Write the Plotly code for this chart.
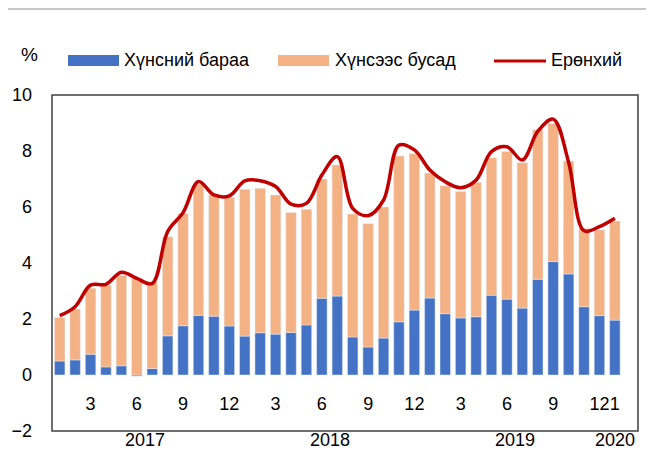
import plotly.graph_objects as go

# ---------------- data ----------------
periods = [f"{y}-{m:02d}" for y in (2017, 2018, 2019) for m in range(1, 13)] + ["2020-01"]
food = [0.50, 0.54, 0.74, 0.29, 0.33, -0.04, 0.23, 1.40, 1.76, 2.13, 2.10, 1.75,
        1.39, 1.51, 1.46, 1.52, 1.79, 2.74, 2.82, 1.36, 1.00, 1.32, 1.90, 2.32,
        2.75, 2.19, 2.04, 2.08, 2.85, 2.71, 2.39, 3.42, 4.05, 3.61, 2.44, 2.12,
        1.96]
nonfood = [1.55, 1.82, 2.36, 2.92, 3.22, 3.45, 3.10, 3.54, 4.01, 4.69, 4.33, 4.60,
           5.24, 5.16, 4.97, 4.28, 4.13, 4.26, 4.68, 4.39, 4.40, 4.68, 5.92, 5.58,
           4.46, 4.57, 4.51, 4.80, 4.91, 5.27, 5.19, 5.34, 4.93, 4.03, 2.80, 3.06,
           3.54]
total = [2.12, 2.44, 3.21, 3.24, 3.67, 3.45, 3.27, 5.12, 5.80, 6.91, 6.43, 6.40,
         6.93, 6.94, 6.73, 6.10, 6.13, 7.14, 7.80, 5.95, 5.69, 6.25, 8.21, 8.04,
         7.32, 6.90, 6.69, 6.96, 7.98, 8.15, 7.68, 8.70, 9.14, 7.60, 5.15, 5.30,
         5.60]
tick_idx = [2, 5, 8, 11, 14, 17, 20, 23, 26, 29, 32, 35, 36]
tick_text = ["3", "6", "9", "12", "3", "6", "9", "12", "3", "6", "9", "12", "1"]
years = ["2017", "2018", "2019", "2020"]
year_pos = [5.5, 17.5, 29.5, 36]
names = ["Хүнсний бараа", "Хүнсээс бусад", "Ерөнхий"]

# ---------------- style ----------------
W, H = 654, 452
OFF = 8  # page body offset of the plot div
# target plot-area box in window pixels
PL, PR, PT, PB = 52, 638, 95, 431
ML, MT = PL - OFF, PT - OFF
MR, MB = W - (PR - OFF), H - (PB - OFF)
PW, PH = PR - PL, PB - PT
FONT = "Liberation Sans, Arial, sans-serif"
BLUE, ORANGE, RED = "#4472C4", "#F4B183", "#C00000"


def px(xp):
    return (xp - PL) / PW


def py(yp):
    return (PB - yp) / PH


x = list(range(len(periods)))

fig = go.Figure()
fig.add_trace(go.Bar(x=x, y=food, name=names[0], marker_color=BLUE,
                     customdata=periods, showlegend=False))
fig.add_trace(go.Bar(x=x, y=nonfood, name=names[1], marker_color=ORANGE,
                     customdata=periods, showlegend=False))
fig.add_trace(go.Scatter(x=x, y=total, name=names[2], mode="lines",
                         line=dict(color=RED, width=3.5, shape="spline", smoothing=1.0),
                         showlegend=False))

shapes = [
    dict(type="rect", xref="paper", yref="paper", x0=0, x1=1, y0=0, y1=1,
         line=dict(color="#404040", width=1.5), layer="above"),
    dict(type="line", xref="paper", yref="paper", x0=px(0), x1=px(W), y0=py(9), y1=py(9),
         line=dict(color="#c8c8c8", width=2)),
    # legend keys
    dict(type="rect", xref="paper", yref="paper", x0=px(68), x1=px(119), y0=py(66), y1=py(55),
         fillcolor=BLUE, line=dict(width=0)),
    dict(type="rect", xref="paper", yref="paper", x0=px(278), x1=px(329), y0=py(66), y1=py(55),
         fillcolor=ORANGE, line=dict(width=0)),
    dict(type="line", xref="paper", yref="paper", x0=px(494), x1=px(546), y0=py(61), y1=py(61),
         line=dict(color=RED, width=3)),
]

annotations = [
    dict(text="%", xref="paper", yref="paper", x=px(29), y=py(55), showarrow=False,
         xanchor="center", yanchor="middle", font=dict(size=19)),
    dict(text=names[0], xref="paper", yref="paper", x=px(122), y=py(60), showarrow=False,
         xanchor="left", yanchor="middle", font=dict(size=18)),
    dict(text=names[1], xref="paper", yref="paper", x=px(333), y=py(60), showarrow=False,
         xanchor="left", yanchor="middle", font=dict(size=18)),
    dict(text=names[2], xref="paper", yref="paper", x=px(549), y=py(60), showarrow=False,
         xanchor="left", yanchor="middle", font=dict(size=18)),
]
for yr, pos in zip(years, year_pos):
    annotations.append(dict(text=yr, xref="x", yref="paper", x=pos, y=py(440),
                            showarrow=False, xanchor="center", yanchor="middle",
                            font=dict(size=18)))

fig.update_layout(
    width=W, height=H,
    margin=dict(l=ML, r=MR, t=MT, b=MB, pad=0, autoexpand=False),
    paper_bgcolor="white", plot_bgcolor="white",
    barmode="relative", bargap=0.32,
    font=dict(family=FONT, size=18, color="#000000"),
    shapes=shapes, annotations=annotations,
    xaxis=dict(range=[-0.5, 37.5], tickmode="array", tickvals=tick_idx, ticktext=tick_text,
               showgrid=False, zeroline=False, showline=False, ticks="", tickangle=0,
               automargin=False, anchor="free", position=py(391), tickfont=dict(size=18)),
    yaxis=dict(range=[-2, 10], tickmode="array", tickvals=[-2, 0, 2, 4, 6, 8, 10],
               showgrid=False, zeroline=False, showline=False, ticks="", automargin=False,
               ticklabelstandoff=19, tickfont=dict(size=18)),
)

fig.write_html("out.html")
